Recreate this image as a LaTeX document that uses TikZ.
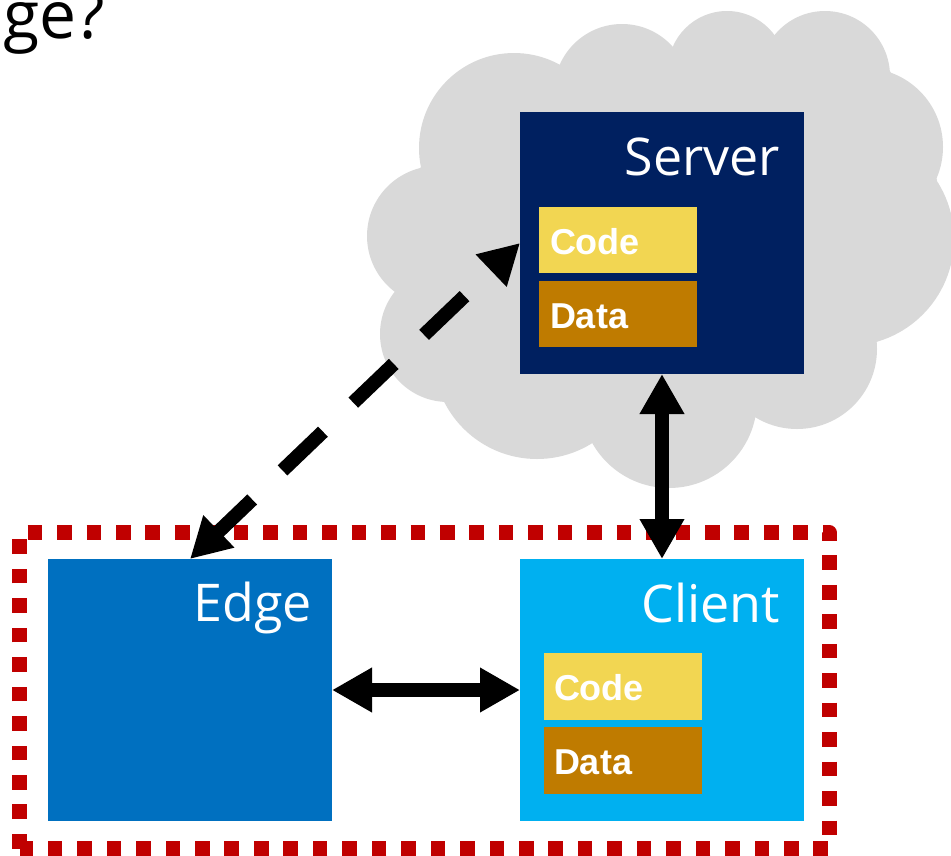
\documentclass[tikz,border=0pt]{standalone}
\usepackage{fontspec}
\setmainfont{Open Sans}
\newfontfamily\boxfont{Liberation Sans}
\usetikzlibrary{arrows.meta}

\definecolor{cloudgray}{HTML}{D9D9D9}
\definecolor{servernavy}{HTML}{002060}
\definecolor{edgeblue}{HTML}{0070C0}
\definecolor{clientblue}{HTML}{00B0F0}
\definecolor{codeyellow}{HTML}{F2D652}
\definecolor{databrown}{HTML}{BF7B00}
\definecolor{framered}{HTML}{C00000}

\begin{document}
\begin{tikzpicture}[x=1pt,y=-1pt,
  block/.style={rectangle, inner sep=0pt, outer sep=0pt,
    minimum width=284pt, minimum height=262pt},
  part/.style={rectangle, inner sep=0pt, outer sep=0pt,
    minimum width=158pt, minimum height=66.5pt},
  parttext/.style={inner sep=0pt, outer sep=0pt, anchor=base west, text=white,
    font=\boxfont\bfseries\fontsize{36}{36}\selectfont},
  title/.style={inner sep=0pt, outer sep=0pt, anchor=base east, text=white,
    font=\fontsize{52}{52}\selectfont},
  tip/.style={Triangle[length=40pt,width=42pt]},
  link/.style={line width=14pt, {Triangle[length=40pt,width=42pt]}-{Triangle[length=40pt,width=42pt]}},
  redframe/.style={draw=framered, line width=14.5pt,
    dash pattern=on 14.6pt off 14.85pt, line join=round}
]
\useasboundingbox (0,0) rectangle (951,855);
\clip (0,0) rectangle (951,855);

% heading fragment
\node[inner sep=0pt, anchor=base west, font=\fontsize{66}{66}\selectfont]
  (heading) at (3,38.5) {ge?};

% cloud: polygon through the cusps plus one circle per bump
\fill[cloudgray]
  (420,168) -- (560,65) -- (673,47) -- (775,35) -- (890,71) -- (937,180)
  -- (877,342) -- (755,417) -- (592,443) -- (445,401) -- (395,292) -- cycle;
\fill[cloudgray] (514,148) circle[radius=95pt];
\fill[cloudgray] (622,92) circle[radius=68pt];
\fill[cloudgray] (727,70) circle[radius=59pt];
\fill[cloudgray] (825,76) circle[radius=65pt];
\fill[cloudgray] (864,147) circle[radius=79pt];
\fill[cloudgray] (847,239) circle[radius=107pt];
\fill[cloudgray] (797,349) circle[radius=80pt];
\fill[cloudgray] (669,400) circle[radius=88pt];
\fill[cloudgray] (537,355) circle[radius=104pt];
\fill[cloudgray] (448,334) circle[radius=68pt];
\fill[cloudgray] (437,236) circle[radius=70pt];

% dotted frame around edge and client
\draw[redframe] (19.5,848.5) -- (19.5,532.7) -- (829.5,532.7) -- (829.5,848.5) -- cycle;

% server
\node[block, fill=servernavy] (server) at (662,243) {};
\node[title] (server-t) at ([shift={(-24,63)}]server.north east) {Server};
\node[part, fill=codeyellow] (scode) at (618,240) {};
\node[parttext] (scode-t) at ([shift={(11,47.5)}]scode.north west) {Code};
\node[part, fill=databrown] (sdata) at (618,314) {};
\node[parttext] (sdata-t) at ([shift={(11,47.5)}]sdata.north west) {Data};

% edge
\node[block, fill=edgeblue] (edge) at (190,690) {};
\node[title] (edge-t) at ([shift={(-20,62)}]edge.north east) {Edge};

% client
\node[block, fill=clientblue] (client) at (662,690) {};
\node[title] (client-t) at ([shift={(-24,63)}]client.north east) {Client};
\node[part, fill=codeyellow] (ccode) at (623,686.5) {};
\node[parttext] (ccode-t) at ([shift={(10,47.5)}]ccode.north west) {Code};
\node[part, fill=databrown] (cdata) at (623,760.5) {};
\node[parttext] (cdata-t) at ([shift={(10,47.5)}]cdata.north west) {Data};

% connectors
\draw[link] (server.south) -- (client.north);
\draw[link] (edge.east) -- (client.west);
\draw[link, dash pattern=on 56pt off 42pt, dash phase=7.4pt] (edge.north) -- (server.west);
\end{tikzpicture}
\end{document}
